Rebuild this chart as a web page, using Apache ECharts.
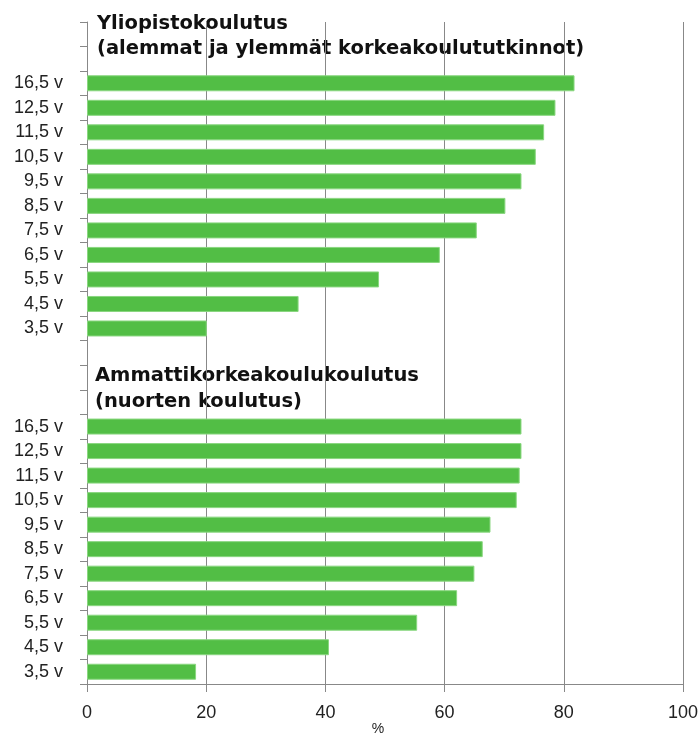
<!DOCTYPE html>
<html>
<head>
<meta charset="utf-8">
<script src="https://cdn.jsdelivr.net/npm/echarts@6/dist/echarts.min.js"></script>
<style>
  html, body { margin: 0; padding: 0; background: #fff; }
  #main { width: 700px; height: 737px; }
</style>
</head>
<body>
<div id="main"></div>
<script>
// ikäryhmät ylhäältä alas
var ages = ['16,5 v', '12,5 v', '11,5 v', '10,5 v', '9,5 v', '8,5 v', '7,5 v', '6,5 v', '5,5 v', '4,5 v', '3,5 v'];
// Yliopistokoulutus (%)
var uniValues = [81.8, 78.6, 76.7, 75.3, 72.9, 70.2, 65.4, 59.2, 49.0, 35.5, 20.1];
// Ammattikorkeakoulukoulutus (%)
var amkValues = [72.9, 72.9, 72.6, 72.1, 67.7, 66.4, 65.0, 62.1, 55.4, 40.6, 18.3];
var xTicks = [0, 20, 40, 60, 80, 100];

var uniTitle = ['Yliopistokoulutus', '(alemmat ja ylemmät korkeakoulututkinnot)'];
var amkTitle = ['Ammattikorkeakoulukoulutus', '(nuorten koulutus)'];
var unitLabel = '%';

// kategoria-akseli: 2 tyhjää, 11 ikää, 3 tyhjää, 11 ikää
var categories = [];
var values = [];
function addBlank(n) {
  for (var i = 0; i < n; i++) { categories.push(''); values.push(null); }
}
addBlank(2);
ages.forEach(function (a, i) { categories.push(a); values.push(uniValues[i]); });
addBlank(3);
ages.forEach(function (a, i) { categories.push(a); values.push(amkValues[i]); });

var labelFont = '"Liberation Sans", Arial, sans-serif';
var titleFont = '"DejaVu Sans", Verdana, sans-serif';

function header(lines, x, y1, y2, boxTop, boxBottom) {
  return {
    type: 'group',
    z: 10,
    children: [
      {
        type: 'rect',
        shape: { x: 88, y: boxTop, width: 522, height: boxBottom - boxTop },
        style: { fill: '#fff' }
      },
      {
        type: 'text',
        style: { x: x, y: y1, text: lines[0], font: 'bold 19.5px ' + titleFont, fill: '#111', verticalAlign: 'middle' }
      },
      {
        type: 'text',
        style: { x: x, y: y2, text: lines[1], font: 'bold 19.5px ' + titleFont, fill: '#111', verticalAlign: 'middle' }
      }
    ]
  };
}

var myChart = echarts.init(document.getElementById('main'));
var option = {
  animation: false,
  grid: { left: 87, right: 17, top: 22, bottom: 53, containLabel: false, outerBoundsMode: 'none' },
  xAxis: {
    type: 'value',
    min: 0,
    max: 100,
    interval: 20,
    axisLine: { show: true, lineStyle: { color: '#888', width: 1 } },
    axisTick: { show: true, length: 8, lineStyle: { color: '#888' } },
    axisLabel: {
      margin: 20,
      fontFamily: labelFont,
      fontSize: 18,
      color: '#222',
      formatter: function (v) { return xTicks.indexOf(v) >= 0 ? String(v) : ''; }
    },
    splitLine: { show: true, lineStyle: { color: '#888', width: 1 } }
  },
  yAxis: {
    type: 'category',
    inverse: true,
    data: categories,
    axisLine: { show: true, lineStyle: { color: '#888', width: 1 } },
    axisTick: { show: true, length: 7, lineStyle: { color: '#888' } },
    axisLabel: {
      margin: 24,
      fontFamily: labelFont,
      fontSize: 18,
      color: '#222',
      interval: 0
    },
    splitLine: { show: false }
  },
  series: [
    {
      type: 'bar',
      data: values,
      barWidth: 16,
      itemStyle: { color: '#52BE45', borderColor: '#8ad780', borderWidth: 1 }
    }
  ],
  graphic: [
    header(uniTitle, 97, 23.5, 48.5, 22, 71),
    header(amkTitle, 95, 375.5, 401.5, 361, 412),
    {
      type: 'text',
      style: { x: 378, y: 729, text: unitLabel, font: '14px ' + labelFont, fill: '#222', align: 'center', verticalAlign: 'middle' }
    }
  ]
};
myChart.setOption(option);
</script>
</body>
</html>
